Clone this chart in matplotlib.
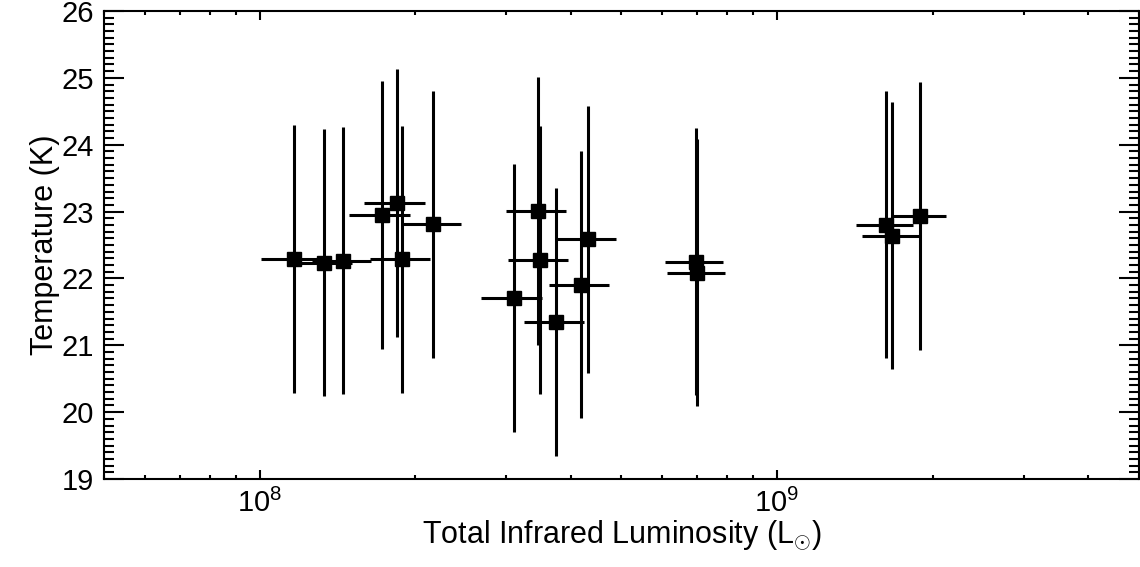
import matplotlib
matplotlib.use('Agg')
import matplotlib.pyplot as plt
from matplotlib.ticker import LogLocator, MultipleLocator

plt.rcParams['font.family'] = ['Liberation Sans', 'DejaVu Sans']
plt.rcParams['mathtext.fontset'] = 'custom'
plt.rcParams['mathtext.rm'] = 'Liberation Sans'
plt.rcParams['mathtext.it'] = 'Liberation Sans:italic'

# total IR luminosity (L_sun) and its error
lum = [1.166e8, 1.33e8, 1.45e8, 1.72e8, 1.84e8, 1.886e8, 2.164e8,
       3.10e8, 3.456e8, 3.487e8, 3.745e8, 4.31e8, 4.18e8,
       6.975e8, 7.02e8,
       1.628e9, 1.672e9, 1.888e9]
lum_err = [0.16e8, 0.18e8, 0.19e8, 0.23e8, 0.25e8, 0.25e8, 0.29e8,
           0.42e8, 0.46e8, 0.46e8, 0.50e8, 0.57e8, 0.56e8,
           0.09e9, 0.09e9,
           0.205e9, 0.21e9, 0.23e9]
# dust temperature (K) and its error
temp = [22.29, 22.235, 22.265, 22.95, 23.13, 22.285, 22.81,
        21.71, 23.01, 22.275, 21.35, 22.585, 21.905,
        22.25, 22.085,
        22.805, 22.64, 22.935]
temp_err = [2.0] * len(temp)

fig = plt.figure(figsize=(11.4, 5.67), dpi=100)
ax = fig.add_axes([0.0912, 0.1552, 0.9075, 0.8254])

ax.errorbar(lum, temp, xerr=lum_err, yerr=temp_err, fmt='s', color='black',
            ecolor='black', elinewidth=2.2, capsize=0, markersize=9.5)

ax.set_xscale('log')
ax.set_xlim(5e7, 5e9)
ax.set_ylim(19, 26)

ax.yaxis.set_major_locator(MultipleLocator(1))
ax.yaxis.set_minor_locator(MultipleLocator(0.1))
ax.xaxis.set_major_locator(LogLocator(base=10))
ax.xaxis.set_minor_locator(LogLocator(base=10, subs=range(2, 10)))

for s in ax.spines.values():
    s.set_linewidth(1.5)

ax.tick_params(axis='both', which='both', direction='in', top=True, right=True,
               width=1.5, labelsize=21, pad=7)
ax.tick_params(axis='y', which='major', length=14.4)
ax.tick_params(axis='y', which='minor', length=7.2)
ax.tick_params(axis='x', which='major', length=6.5, pad=7)
ax.tick_params(axis='x', which='minor', length=3.2)

ax.set_xlabel(r'Total Infrared Luminosity (L$_{\odot}$)', fontsize=22, labelpad=0)
ax.set_ylabel('Temperature (K)', fontsize=22, labelpad=1)

fig.savefig('out.png', dpi=100)
